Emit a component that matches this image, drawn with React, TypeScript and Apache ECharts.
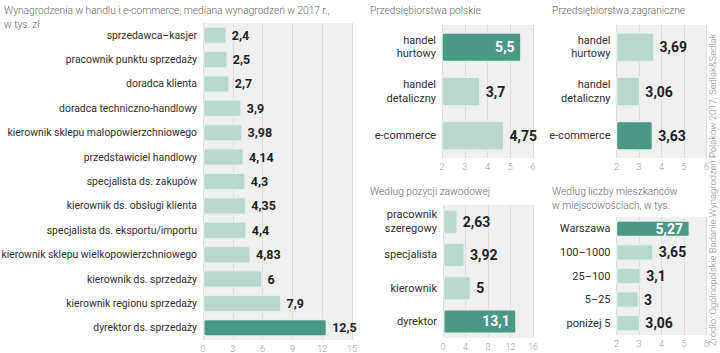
import React, { useEffect, useRef } from "react";
import * as echarts from "echarts";

const leftCategories = [
  "sprzedawca–kasjer",
  "pracownik punktu sprzedaży",
  "doradca klienta",
  "doradca techniczno-handlowy",
  "kierownik sklepu małopowierzchniowego",
  "przedstawiciel handlowy",
  "specjalista ds. zakupów",
  "kierownik ds. obsługi klienta",
  "specjalista ds. eksportu/importu",
  "kierownik sklepu wielkopowierzchniowego",
  "kierownik ds. sprzedaży",
  "kierownik regionu sprzedaży",
  "dyrektor ds. sprzedaży",
];
const leftValues = [2.4, 2.5, 2.7, 3.9, 3.98, 4.14, 4.3, 4.35, 4.4, 4.83, 6, 7.9, 12.5];
const leftHighlight = [12];
const leftInside: number[] = [];

const firmCategories = ["handel\nhurtowy", "handel\ndetaliczny", "e-commerce"];
const polishValues = [5.5, 3.7, 4.75];
const polishHighlight = [0];
const polishInside = [0];
const foreignValues = [3.69, 3.06, 3.63];
const foreignHighlight = [2];
const foreignInside: number[] = [];

const positionCategories = ["pracownik\nszeregowy", "specjalista", "kierownik", "dyrektor"];
const positionValues = [2.63, 3.92, 5, 13.1];
const positionHighlight = [3];
const positionInside = [3];

const cityCategories = ["Warszawa", "100–1000", "25–100", "5–25", "poniżej 5"];
const cityValues = [5.27, 3.65, 3.1, 3, 3.06];
const cityHighlight = [0];
const cityInside = [0];

const titles = [
  "Wynagrodzenia w handlu i e-commerce, mediana wynagrodzeń w 2017 r.,\nw tys. zł",
  "Przedsiębiorstwa polskie",
  "Przedsiębiorstwa zagraniczne",
  "Według pozycji zawodowej",
  "Według liczby mieszkańców\nw miejscowościach, w tys.",
];
const sourceText = "Źródło: Ogólnopolskie Badanie Wynagrodzeń Polaków 2017, Sedlak&Sedlak";

const FONT = 'Roboto, "Liberation Sans", sans-serif';
const LIGHT = "#b8d7cd";
const DARK = "#4a9886";
const BORDER = "#e3efeb";

function fmt(v: number) {
  return String(v).replace(".", ",");
}

export default function App() {
  const ref = useRef<HTMLDivElement>(null);
  useEffect(() => {
    if (!ref.current) return;
    const chart = echarts.init(ref.current, null, { renderer: "svg" });

    const grids = [
      { left: 203, width: 149, top: 23, height: 317 },
      { left: 442, width: 91, top: 25, height: 133 },
      { left: 616.5, width: 90, top: 25, height: 133 },
      { left: 443, width: 90, top: 205, height: 133 },
      { left: 616.5, width: 90, top: 217, height: 118 },
    ];
    const xCfg = [
      { min: 0, max: 15, interval: 3 },
      { min: 2, max: 6, interval: 1 },
      { min: 2, max: 6, interval: 1 },
      { min: 0, max: 16, interval: 4 },
      { min: 2, max: 6, interval: 1 },
    ];
    const cats = [leftCategories, firmCategories, firmCategories, positionCategories, cityCategories];
    const vals = [leftValues, polishValues, foreignValues, positionValues, cityValues];
    const hl = [leftHighlight, polishHighlight, foreignHighlight, positionHighlight, cityHighlight];
    const inside = [leftInside, polishInside, foreignInside, positionInside, cityInside];
    const barW = [18, 30, 30, 25, 17];
    const valSize = [12.5, 14, 14, 14, 14];
    const catSize = [10.4, 11, 11, 11, 11];

    const option: any = {
      animation: false,
      backgroundColor: "#ffffff",
      textStyle: { fontFamily: FONT },
      title: [
        { left: 4, top: 3 },
        { left: 370, top: 3 },
        { left: 552, top: 3 },
        { left: 370, top: 184 },
        { left: 552, top: 184 },
      ].map((p, i) => ({
        ...p,
        text: titles[i],
        padding: 0,
        textStyle: {
          fontFamily: FONT,
          fontSize: 10.2,
          fontWeight: 300,
          color: "#666666",
          lineHeight: 14,
        },
      })),
      grid: grids.map((g) => ({
        ...g,
        show: true,
        backgroundColor: "#f0f0f0",
        borderWidth: 0,
        containLabel: false,
        outerBoundsMode: "none",
      })),
      xAxis: xCfg.map((c, i) => ({
        type: "value",
        gridIndex: i,
        ...c,
        axisLine: { show: false },
        axisTick: { show: false },
        splitLine: { show: true, lineStyle: { color: "#dcdcdc", width: 1 } },
        axisLabel: { color: "#9a9a9a", fontSize: 9, margin: 4, fontFamily: FONT, fontWeight: 300 },
      })),
      yAxis: cats.map((c, i) => ({
        type: "category",
        gridIndex: i,
        data: c,
        inverse: true,
        axisLine: { show: false },
        axisTick: { show: false },
        splitLine: { show: false },
        axisLabel: {
          color: "#2e2e2e",
          fontSize: catSize[i],
          margin: 6,
          lineHeight: 13.5,
          fontFamily: FONT,
        },
      })),
      series: vals.map((v, i) => ({
        type: "bar",
        xAxisIndex: i,
        yAxisIndex: i,
        barWidth: barW[i],
        data: v.map((val, j) => {
          const isHl = hl[i].includes(j);
          const isIn = inside[i].includes(j);
          return {
            value: val,
            itemStyle: {
              color: isHl ? DARK : LIGHT,
              borderColor: BORDER,
              borderWidth: 1.5,
              borderRadius: 2,
            },
            label: {
              show: true,
              position: isIn ? "insideRight" : "right",
              distance: isIn ? 7 : 5,
              color: isIn ? "#ffffff" : "#1e1e1e",
              fontSize: valSize[i],
              fontWeight: "bold",
              fontFamily: FONT,
              formatter: (p: any) => fmt(p.value),
            },
          };
        }),
      })),
      graphic: [
        {
          type: "text",
          x: 712,
          y: 346,
          rotation: Math.PI / 2,
          style: {
            text: sourceText,
            fontFamily: FONT,
            fontSize: 9.5,
            fontWeight: 300,
            fill: "#8a8a8a",
            textAlign: "left",
            textVerticalAlign: "middle",
          },
        },
      ],
    };
    chart.setOption(option);
    return () => chart.dispose();
  }, []);
  return <div ref={ref} style={{ width: 720, height: 353, position: "absolute", left: 0, top: 0 }} />;
}
